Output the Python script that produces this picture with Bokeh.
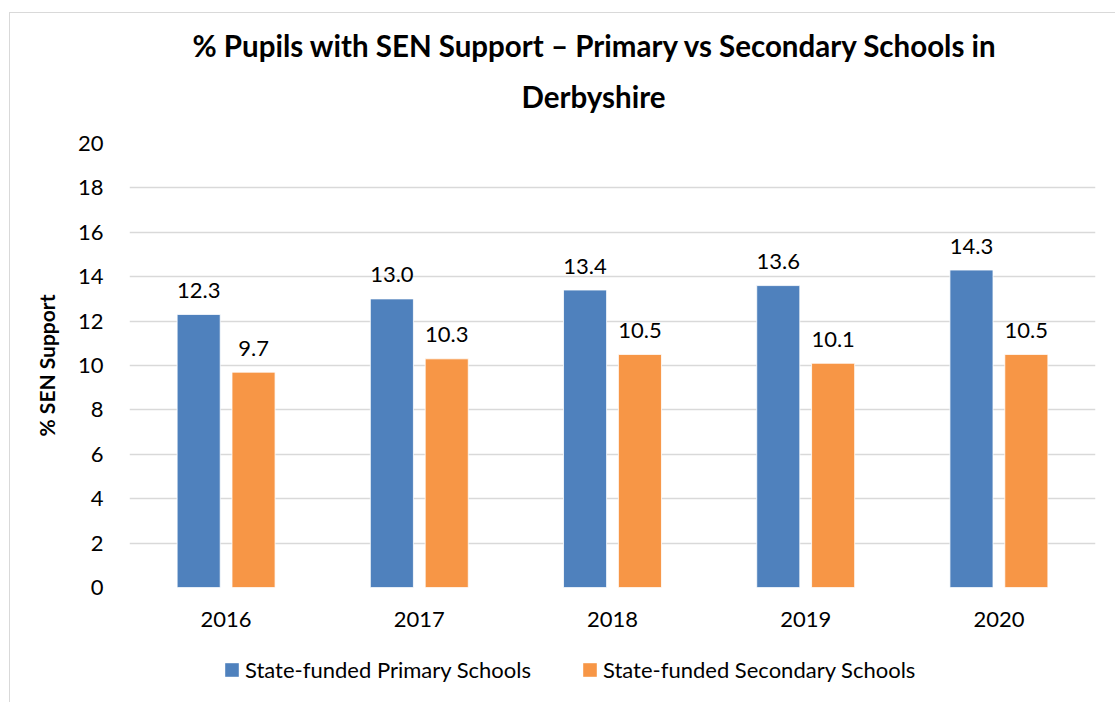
from bokeh.plotting import figure
from bokeh.layouts import column
from bokeh.models import (ColumnDataSource, FactorRange, Range1d, FixedTicker, Title,
                          Legend, LegendItem)
from bokeh.transform import dodge
from bokeh.core.properties import value
from bokeh.embed import file_html
from bokeh.resources import INLINE

# Data
years = ["2016", "2017", "2018", "2019", "2020"]
primary = [12.3, 13.0, 13.4, 13.6, 14.3]
secondary = [9.7, 10.3, 10.5, 10.1, 10.5]
y_ticks = [0, 2, 4, 6, 8, 10, 12, 14, 16, 18, 20]
series_names = ["State-funded Primary Schools", "State-funded Secondary Schools"]
title_lines = ["% Pupils with SEN Support \u2013 Primary vs Secondary Schools in", "Derbyshire"]
y_title = "% SEN Support"

BLUE = "#4F81BD"
ORANGE = "#F79646"
GRID = "#D9D9D9"
FONT = "Lato"
TXT = "#000000"

src = ColumnDataSource(dict(
    year=years,
    primary=primary,
    secondary=secondary,
    primary_lbl=["%.1f" % v for v in primary],
    secondary_lbl=["%.1f" % v for v in secondary],
))

W = 1115
H_MAIN, H_LEG = 640, 62
FL, FR, FT, FB = 129, 1095, 143, 587

# ---- main chart ----
p = figure(
    width=W, height=H_MAIN,
    x_range=FactorRange(factors=years, range_padding=0),
    y_range=Range1d(0, 20),
    output_backend="svg", toolbar_location=None,
    min_border_left=FL, min_border_right=W - FR,
    min_border_top=FT, min_border_bottom=H_MAIN - FB,
)
p.outline_line_color = None
p.background_fill_color = "white"
p.border_fill_alpha = 0

off = 0.142
bw = 0.223
p.vbar(x=dodge("year", -off, range=p.x_range), top="primary", width=bw,
       source=src, fill_color=BLUE, line_color="#FFFFFF", line_width=0.8)
p.vbar(x=dodge("year", off, range=p.x_range), top="secondary", width=bw,
       source=src, fill_color=ORANGE, line_color="#FFFFFF", line_width=0.8)

lbl_kw = dict(text_font=value(FONT), text_font_size="22px", text_color=TXT,
              text_align="center", text_baseline="alphabetic", y_offset=-24)
p.text(x=dodge("year", -off, range=p.x_range), y="primary", text="primary_lbl", source=src, **lbl_kw)
p.text(x=dodge("year", off, range=p.x_range), y="secondary", text="secondary_lbl", source=src, **lbl_kw)

p.yaxis.ticker = FixedTicker(ticks=y_ticks)
for ax in (p.xaxis[0], p.yaxis[0]):
    ax.axis_line_color = None
    ax.major_tick_line_color = None
    ax.minor_tick_line_color = None
    ax.major_label_text_font = FONT
    ax.major_label_text_font_size = "22px"
    ax.major_label_text_color = TXT
p.xaxis.major_label_standoff = 18
p.yaxis.major_label_standoff = 20
p.yaxis.axis_label = y_title
p.yaxis.axis_label_text_font = FONT
p.yaxis.axis_label_text_font_size = "21px"
p.yaxis.axis_label_text_font_style = "bold"
p.yaxis.axis_label_text_color = TXT
p.yaxis.axis_label_standoff = 16
p.xgrid.grid_line_color = None
p.ygrid.grid_line_color = GRID
p.ygrid.grid_line_width = 1.5

# Two-line title, left-aligned with offsets so both lines share one centre
title_kw = dict(text_font=FONT, text_font_size="29.5px", text_font_style="bold",
                text_color=TXT, align="left")
p.title.text = title_lines[0]
for k, v in title_kw.items():
    setattr(p.title, k, v)
p.title.offset = 63
p.title.standoff = -33
p.add_layout(Title(text=title_lines[1], standoff=60, offset=392, **title_kw), "above")

# ---- legend strip ----
q = figure(
    width=W, height=H_LEG,
    x_range=Range1d(0, W), y_range=Range1d(0, H_LEG),
    output_backend="svg", toolbar_location=None,
    x_axis_location=None, y_axis_location=None, min_border=0,
)
q.outline_line_color = None
q.grid.visible = False
q.border_fill_alpha = 0
q.background_fill_alpha = 0
# swatch renderers for the legend: one zero-height bar each, left of the visible range
kb = q.vbar(x=[-10], top=[0], width=1, fill_color=BLUE, line_color=None)
ko = q.vbar(x=[-10], top=[0], width=1, fill_color=ORANGE, line_color=None)
legend = Legend(items=[LegendItem(label=series_names[0], renderers=[kb]),
                       LegendItem(label=series_names[1], renderers=[ko])],
                orientation="horizontal", location=(94, 19),
                glyph_width=17, glyph_height=17, label_standoff=5, spacing=50,
                padding=0, margin=0, border_line_color=None,
                background_fill_alpha=0,
                label_text_font=FONT, label_text_font_size="22px", label_text_color=TXT)
q.add_layout(legend, "center")

# Chart-area border along the top and left edges, painted behind the transparent canvases
frame_bg = ("linear-gradient(#D9D9D9, #D9D9D9) 9px 12px / 1px 100% no-repeat, "
            "linear-gradient(#D9D9D9, #D9D9D9) 9px 12px / 100% 1px no-repeat, white")
layout = column(p, q, spacing=0, styles={"background": frame_bg})
open("out.html", "w").write(file_html(layout, INLINE))
